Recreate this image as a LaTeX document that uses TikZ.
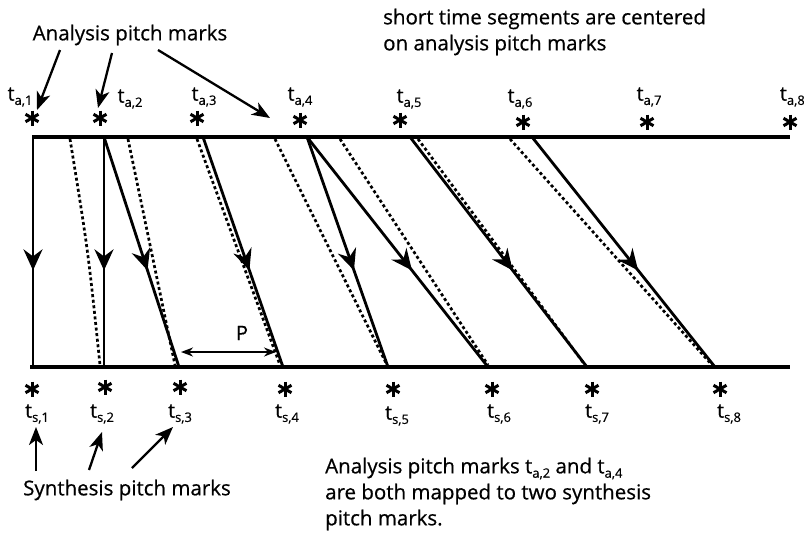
\documentclass[tikz,border=0pt]{standalone}
\usepackage{fontspec}
\setmainfont{Open Sans}[FakeBold=0.6]
\usetikzlibrary{arrows.meta,decorations.markings}
\newcommand\sbs[1]{\raisebox{-0.4ex}{\fontsize{13}{13}\selectfont #1}}
\tikzset{
  ast/.style={minimum size=20pt, inner sep=0pt, path picture={
      \foreach \a in {90,30,150}{
        \draw[line width=3pt] ([shift={(\a:7.5pt)}]path picture bounding box.center) -- ([shift={(\a+180:7.5pt)}]path picture bounding box.center);}}},
  lbl/.style={inner sep=0pt, font=\fontsize{20}{20}\selectfont},
  txt/.style={inner sep=0pt, font=\fontsize{20.5}{26}\selectfont, align=left},
  axis/.style={line width=3.2pt},
  seg/.style={line width=2.8pt, postaction={decorate},
    decoration={markings, mark=at position 0.58 with {\arrow{Stealth[length=21pt,width=19pt,inset=7pt]}}}},
  dsh/.style={line width=2.7pt, dash pattern=on 3pt off 2.6pt},
  pointer/.style={line width=2.3pt, -{Stealth[length=18pt,width=14pt,inset=5pt]}},
}
\begin{document}
\begin{tikzpicture}[x=1pt,y=-1pt]
\useasboundingbox (0,0) rectangle (804,538);
% axes
\coordinate (tl) at (32,137); \coordinate (tr) at (790,137);
\coordinate (bl) at (30,367); \coordinate (br) at (790,367);
\draw[axis] (tl) -- (tr);
\draw[axis] (bl) -- (br);
% analysis pitch marks
\foreach \n/\x/\y in {1/32/118,2/100/118,3/197/118,4/300/120,5/400/120,6/523/122,7/647/122,8/790/122}
  \node[ast] (ta\n) at (\x,\y) {};
\node[lbl] (la1) at (20,97) {t\sbs{a,1}};
\node[lbl] (la2) at (130,99) {t\sbs{a,2}};
\node[lbl] (la3) at (204,97) {t\sbs{a,3}};
\node[lbl] (la4) at (300,97) {t\sbs{a,4}};
\node[lbl] (la5) at (409,99) {t\sbs{a,5}};
\node[lbl] (la6) at (520,99) {t\sbs{a,6}};
\node[lbl] (la7) at (649,97) {t\sbs{a,7}};
\node[lbl, anchor=east] (la8) at (805,97) {t\sbs{a,8}};
% synthesis pitch marks
\foreach \n/\x/\y in {1/32/389,2/105/387,3/180/387,4/285/389,5/393/389,6/492/389,7/592/389,8/720/389}
  \node[ast] (ts\n) at (\x,\y) {};
\node[lbl] (ls1) at (37,414) {t\sbs{s,1}};
\node[lbl] (ls2) at (102,414) {t\sbs{s,2}};
\node[lbl] (ls3) at (180,414) {t\sbs{s,3}};
\node[lbl] (ls4) at (287,414) {t\sbs{s,4}};
\node[lbl] (ls5) at (397,416) {t\sbs{s,5}};
\node[lbl] (ls6) at (499,414) {t\sbs{s,6}};
\node[lbl] (ls7) at (597,414) {t\sbs{s,7}};
\node[lbl] (ls8) at (729,414) {t\sbs{s,8}};
% mapping segments
\foreach \n/\x in {1/33,2/104,3/203,4/307,5/410,6/532}
  \coordinate (u\n) at (\x,137);
\foreach \n/\x in {1/33,2/104,3/179,4/283,5/388,6/488,7/587,8/715}
  \coordinate (b\n) at (\x,367);
\draw[seg] (u1) -- (b1);
\draw[seg] (u2) -- (b2);
\draw[seg] (u2) -- (b3);
\draw[seg] (u3) -- (b4);
\draw[seg] (u4) -- (b5);
\draw[seg] (u4) -- (b6);
\draw[seg] (u5) -- (b7);
\draw[seg] (u6) -- (b8);
% dashed windows
\foreach \n/\xa/\xb in {1/70/100,2/128/175,3/197/280,4/275/387,5/340/488,6/418/585,7/510/712}{
  \coordinate (dt\n) at (\xa,139);
  \coordinate (db\n) at (\xb,365);
}
\draw[dsh] (dt1) .. controls (88,250) .. (db1);
\foreach \n in {2,...,7} \draw[dsh] (dt\n) -- (db\n);
% P
\coordinate (pl) at (181,352); \coordinate (pr) at (276,352);
\draw[line width=1.8pt, {Stealth[length=12pt,width=9pt]}-{Stealth[length=12pt,width=9pt]}] (pl) -- (pr);
\node[lbl] (P) at (242,333) {P};
% texts
\node[txt] (apm) at (130,35) {Analysis pitch marks};
\coordinate (a1s) at (60,50); \coordinate (a1e) at (37,110);
\coordinate (a2s) at (112,53); \coordinate (a2e) at (98,108);
\coordinate (a3s) at (158,50); \coordinate (a3e) at (270,118);
\draw[pointer] (a1s) -- (a1e);
\draw[pointer] (a2s) -- (a2e);
\draw[pointer] (a3s) -- (a3e);
\node[txt, anchor=west] (stseg) at (383,32) {short time segments are centered\\on analysis pitch marks};
\node[txt] (spm) at (127,490) {Synthesis pitch marks};
\coordinate (s1s) at (36,471); \coordinate (s1e) at (36,427);
\coordinate (s2s) at (89,470); \coordinate (s2e) at (102,432);
\coordinate (s3s) at (132,468); \coordinate (s3e) at (173,427);
\draw[pointer] (s1s) -- (s1e);
\draw[pointer] (s2s) -- (s2e);
\draw[pointer] (s3s) -- (s3e);
\node[txt, anchor=west] (note) at (325,494) {Analysis pitch marks t\sbs{a,2} and t\sbs{a,4}\\are both mapped to two synthesis\\pitch marks.};
\end{tikzpicture}
\end{document}
